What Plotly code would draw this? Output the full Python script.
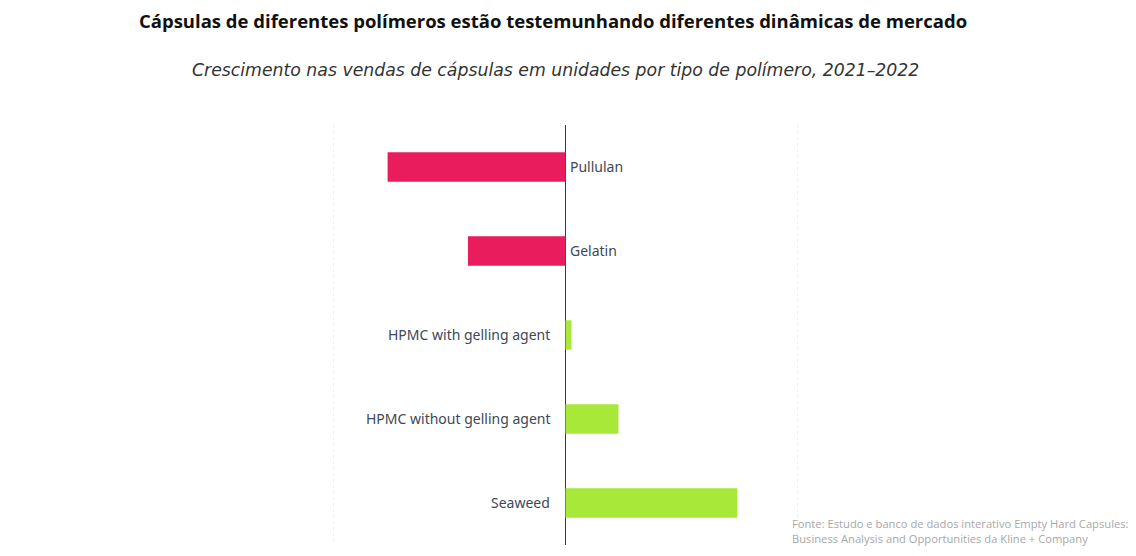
import plotly.graph_objects as go

polymers = ['Pullulan', 'Gelatin', 'HPMC with gelling agent', 'HPMC without gelling agent', 'Seaweed']
growth = [-3.83, -2.1, 0.13, 1.14, 3.7]
colors = ['#E91C5E' if g < 0 else '#A8E838' for g in growth]

title = 'Cápsulas de diferentes polímeros estão testemunhando diferentes dinâmicas de mercado'
subtitle = 'Crescimento nas vendas de cápsulas em unidades por tipo de polímero, 2021–2022'
source = ('Fonte: Estudo e banco de dados interativo Empty Hard Capsules:<br>'
          'Business Analysis and Opportunities da Kline + Company')

fig = go.Figure(go.Bar(
    x=growth, y=polymers, orientation='h',
    marker=dict(color=colors, line=dict(width=0)),
    hoverinfo='x+y',
))

# category labels sit on the opposite side of the zero line
for name, g in zip(polymers, growth):
    fig.add_annotation(
        x=0, y=name, text=name, showarrow=False, yshift=1,
        xanchor='left' if g < 0 else 'right',
        xshift=2 if g < 0 else -14,
        font=dict(family='Noto Sans', size=14, color='#404856'),
    )

fig.add_annotation(text='<b>' + title + '</b>', xref='paper', yref='paper',
                   x=0.473, y=1.0, yshift=105, showarrow=False, yanchor='middle',
                   font=dict(family='Open Sans', size=18.5, color='#111111'))
fig.add_annotation(text='<i>' + subtitle + '</i>', xref='paper', yref='paper',
                   x=0.478, y=1.0, yshift=55, showarrow=False, yanchor='middle',
                   font=dict(family='DejaVu Sans', size=17.3, color='#333333'))
fig.add_annotation(text=source, xref='paper', yref='paper', x=1.0, xshift=-11,
                   y=0.0, yshift=-3, xanchor='left', yanchor='bottom', align='left',
                   showarrow=False,
                   font=dict(family='Open Sans', size=11.2, color='#A8A8A8'))

# figure is 16px smaller than the window: the page body adds an 8px margin
fig.update_layout(
    width=1120, height=540,
    margin=dict(l=322, r=327, t=117, b=3),
    plot_bgcolor='white', paper_bgcolor='white',
    showlegend=False, bargap=0.65,
    xaxis=dict(range=[-5.07, 5.07], tickvals=[-5, 5], showticklabels=False,
               showgrid=True, gridcolor='#F0F0F0', griddash='dot', gridwidth=1,
               zeroline=True, zerolinecolor='#2F3A4A', zerolinewidth=1.2,
               fixedrange=True),
    yaxis=dict(autorange='reversed', showticklabels=False, showgrid=False,
               zeroline=False, fixedrange=True),
)

fig.write_html('out.html')
